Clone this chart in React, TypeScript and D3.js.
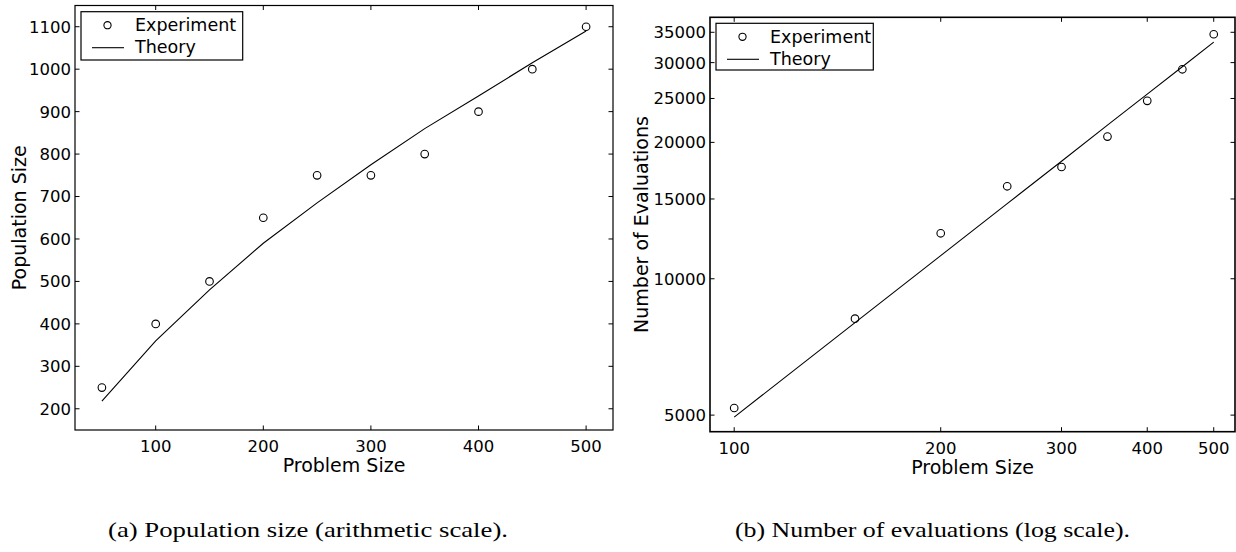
import React from "react";
import * as d3 from "d3";

// (a) population size vs problem size
const popSizes = [50, 100, 150, 200, 250, 300, 350, 400, 450, 500];
const popExperiment = [250, 400, 500, 650, 750, 750, 800, 900, 1000, 1100];
const popTheory = [218, 360, 480, 590, 685, 775, 860, 937, 1015, 1090];
const popTicksX = [100, 200, 300, 400, 500];
const popTicksY = [200, 300, 400, 500, 600, 700, 800, 900, 1000, 1100];

// (b) number of evaluations vs problem size (log-log)
const evalSizes = [100, 150, 200, 250, 300, 350, 400, 450, 500];
const evalExperiment = [5185, 8165, 12600, 16000, 17650, 20600, 24700, 29000, 34650];
const evalTheory = [4950, 8000, 11250, 14650, 18170, 21830, 25560, 29380, 33300];
const evalTicksX = [100, 200, 300, 400, 500];
const evalTicksY = [5000, 10000, 15000, 20000, 25000, 30000, 35000];

const legendLabels = ["Experiment", "Theory"];

const SANS = "'DejaVu Sans', sans-serif";
const SERIF = "'Liberation Serif', serif";

type Scale = (v: number) => number;

interface PanelProps {
  x: Scale & { range(): number[] };
  y: Scale & { range(): number[] };
  xs: number[];
  exp: number[];
  theory: number[];
  ticksX: number[];
  ticksY: number[];
  yLabel: string;
  yLabelX: number;
  legend: { x: number; y: number; w: number; h: number };
  axisWidth: number;
}

function Panel({ x, y, xs, exp, theory, ticksX, ticksY, yLabel, yLabelX, legend, axisWidth }: PanelProps) {
  const [x0, x1] = x.range();
  const [yb, yt] = y.range();
  const tick = 4.5;
  const line = d3
    .line<number>()
    .x((_, i) => x(xs[i]))
    .y((d) => y(d));
  const midX = (x0 + x1) / 2;
  const midY = (yb + yt) / 2;
  return (
    <g>
      {/* ticks, drawn inward on all four sides */}
      {ticksX.map((t) => (
        <g key={"tx" + t}>
          <line x1={x(t)} x2={x(t)} y1={yb} y2={yb - tick} stroke="#000" strokeWidth={1} />
          <line x1={x(t)} x2={x(t)} y1={yt} y2={yt + tick} stroke="#000" strokeWidth={1} />
          <text x={x(t)} y={yb + 22} textAnchor="middle" fontFamily={SANS} fontSize={16.5} fill="#000">
            {t}
          </text>
        </g>
      ))}
      {ticksY.map((t) => (
        <g key={"ty" + t}>
          <line x1={x0} x2={x0 + tick} y1={y(t)} y2={y(t)} stroke="#000" strokeWidth={1} />
          <line x1={x1} x2={x1 - tick} y1={y(t)} y2={y(t)} stroke="#000" strokeWidth={1} />
          <text
            x={x0 - 4}
            y={y(t)}
            dy="0.36em"
            textAnchor="end"
            fontFamily={SANS}
            fontSize={16.5}
            fill="#000"
          >
            {t}
          </text>
        </g>
      ))}
      <rect x={x0} y={yt} width={x1 - x0} height={yb - yt} fill="none" stroke="#000" strokeWidth={axisWidth} />

      <path d={line(theory) || ""} fill="none" stroke="#000" strokeWidth={1.1} />
      {exp.map((v, i) => (
        <circle key={"p" + i} cx={x(xs[i])} cy={y(v)} r={3.8} fill="none" stroke="#000" strokeWidth={1.1} />
      ))}

      {/* axis titles */}
      <text x={midX} y={yb + 42} textAnchor="middle" fontFamily={SANS} fontSize={19} fill="#000">
        Problem Size
      </text>
      <text
        transform={`translate(${yLabelX},${midY}) rotate(-90)`}
        textAnchor="middle"
        fontFamily={SANS}
        fontSize={19}
        fill="#000"
      >
        {yLabel}
      </text>

      {/* legend */}
      <g transform={`translate(${legend.x},${legend.y})`}>
        <rect x={0} y={0} width={legend.w} height={legend.h} fill="#fff" stroke="#000" strokeWidth={1.2} />
        <circle cx={26.5} cy={13.5} r={3.6} fill="none" stroke="#000" strokeWidth={1.1} />
        <line x1={11} x2={43} y1={36} y2={36} stroke="#000" strokeWidth={1.1} />
        <text x={54} y={13.5} dy="0.36em" fontFamily={SANS} fontSize={17.5} fill="#000">
          {legendLabels[0]}
        </text>
        <text x={54} y={35} dy="0.36em" fontFamily={SANS} fontSize={17.5} fill="#000">
          {legendLabels[1]}
        </text>
      </g>
    </g>
  );
}

export default function App() {
  const xA = d3.scaleLinear().domain([25, 525]).range([75, 613]);
  const yA = d3.scaleLinear().domain([150, 1150]).range([430, 5.5]);

  const xB = d3.scaleLog().domain([92.2, 537]).range([710, 1235]);
  const yB = d3.scaleLog().domain([4596, 37770]).range([431.7, 17.3]);

  return (
    <svg
      width={1236}
      height={552}
      viewBox="0 0 1236 552"
      style={{ position: "absolute", left: 0, top: 0, background: "#fff" }}
    >
      <rect width={1236} height={552} fill="#fff" />
      <Panel
        x={xA as any}
        y={yA as any}
        xs={popSizes}
        exp={popExperiment}
        theory={popTheory}
        ticksX={popTicksX}
        ticksY={popTicksY}
        yLabel="Population Size"
        yLabelX={26}
        legend={{ x: 81, y: 11.7, w: 161.7, h: 48.3 }}
        axisWidth={1.2}
      />
      <Panel
        x={xB as any}
        y={yB as any}
        xs={evalSizes}
        exp={evalExperiment}
        theory={evalTheory}
        ticksX={evalTicksX}
        ticksY={evalTicksY}
        yLabel="Number of Evaluations"
        yLabelX={648}
        legend={{ x: 716, y: 23.3, w: 157.3, h: 46.7 }}
        axisWidth={1.6}
      />
      <text
        x={108}
        y={537}
        textLength={400}
        lengthAdjust="spacingAndGlyphs"
        fontFamily={SERIF}
        fontSize={21}
        fill="#000"
      >
        (a) Population size (arithmetic scale).
      </text>
      <text
        x={735}
        y={537}
        textLength={395}
        lengthAdjust="spacingAndGlyphs"
        fontFamily={SERIF}
        fontSize={21}
        fill="#000"
      >
        (b) Number of evaluations (log scale).
      </text>
    </svg>
  );
}
